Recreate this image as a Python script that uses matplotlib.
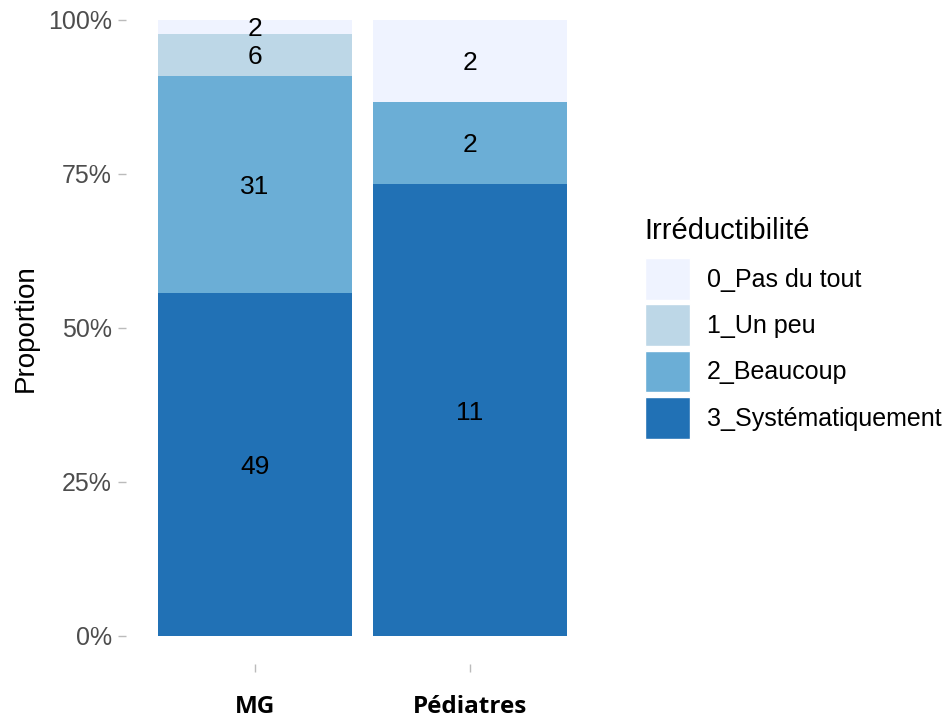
import numpy as np
import matplotlib.pyplot as plt
from matplotlib.patches import Patch
from matplotlib.ticker import FuncFormatter

groups = ['MG', 'Pédiatres']
levels = ['0_Pas du tout', '1_Un peu', '2_Beaucoup', '3_Systématiquement']
counts = {
    '3_Systématiquement': [49, 11],
    '2_Beaucoup': [31, 2],
    '1_Un peu': [6, 0],
    '0_Pas du tout': [2, 2],
}
colors = {
    '0_Pas du tout': '#EFF3FF',
    '1_Un peu': '#BDD7E7',
    '2_Beaucoup': '#6BAED6',
    '3_Systématiquement': '#2171B5',
}

plt.rcParams['font.family'] = ['Liberation Sans', 'DejaVu Sans']

fig = plt.figure(figsize=(9.5, 7.2), dpi=100)
ax = fig.add_axes([0.1326, 0.0778, 0.498, 0.9153])

x = np.arange(len(groups)) + 1
totals = np.sum([counts[k] for k in levels], axis=0)
bottom = np.zeros(len(groups))
# stack from 3 (bottom) to 0 (top)
for lev in levels[::-1]:
    vals = np.array(counts[lev], dtype=float)
    prop = vals / totals
    ax.bar(x, prop, width=0.9, bottom=bottom, color=colors[lev], linewidth=0)
    for xi, p, b, v in zip(x, prop, bottom, vals):
        if v > 0:
            ax.text(xi, b + p / 2, f'{int(v)}', ha='center', va='center_baseline',
                    fontsize=19, color='black', clip_on=False)
    bottom += prop

ax.set_xlim(0.4, 2.6)
ax.set_ylim(-0.0455, 1.024)
ax.set_yticks([0, 0.25, 0.5, 0.75, 1.0])
ax.yaxis.set_major_formatter(FuncFormatter(lambda v, _: f'{int(round(v * 100))}%'))
ax.set_xticks(x)
ax.set_xticklabels(groups, fontsize=17.5, fontweight='bold', color='black',
                   family=['Open Sans', 'DejaVu Sans'])
ax.tick_params(axis='x', length=6, width=1, color='#BBBBBB', pad=16)
ax.tick_params(axis='y', length=6, width=1, color='#BBBBBB', labelsize=18,
               labelcolor='#4D4D4D', pad=4)
for s in ax.spines.values():
    s.set_visible(False)
ax.set_ylabel('Proportion', fontsize=20, color='black')
ax.yaxis.set_label_coords(-0.184, 0.51)

handles = [Patch(facecolor=colors[l], edgecolor='white', linewidth=1) for l in levels]
leg = fig.legend(handles, levels, title='Irréductibilité', loc='upper left',
                 bbox_to_anchor=(0.668, 0.712), frameon=False, fontsize=18,
                 title_fontsize=21, handlelength=1.8, handleheight=2.2,
                 labelspacing=0.18, handletextpad=0.7, borderaxespad=0)
leg._legend_box.align = 'left'
leg._legend_box.sep = 9

fig.savefig('out.png', dpi=100)
